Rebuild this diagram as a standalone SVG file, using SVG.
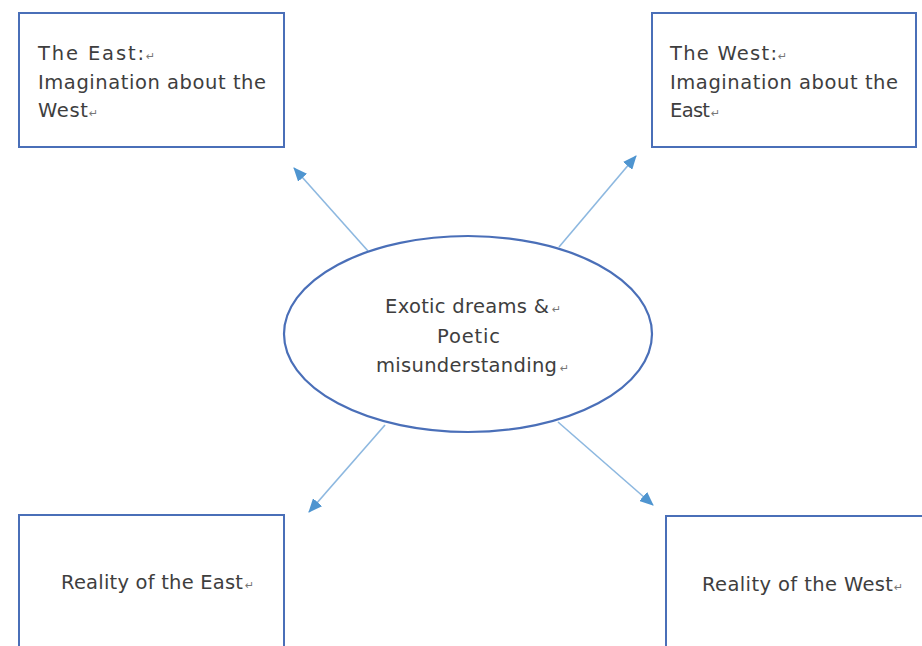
<svg xmlns="http://www.w3.org/2000/svg" width="922" height="646" viewBox="0 0 922 646">
  <defs>
    <marker id="arrow" viewBox="0 0 14 12" refX="13" refY="6" markerWidth="14" markerHeight="12" markerUnits="userSpaceOnUse" orient="auto">
      <path d="M0,0 L14,6 L0,12 z" fill="#4F95D0"/>
    </marker>
    <style>
      .box { fill: #ffffff; stroke: #4A6FB8; stroke-width: 2; }
      .ell { fill: #ffffff; stroke: #4A6FB8; stroke-width: 2.2; }
      .conn { stroke: #8DB8E0; stroke-width: 1.6; fill: none; marker-end: url(#arrow); }
      .t { font-family: "DejaVu Sans", "Noto Sans", sans-serif; font-size: 19.5px; fill: #3E3E3E; }
      .ret { font-family: "DejaVu Sans", sans-serif; font-size: 11px; fill: #777777; }
    </style>
  </defs>
  <rect width="922" height="646" fill="#ffffff"/>

  <g id="connectors">
    <line class="conn" x1="368" y1="251" x2="294" y2="168"/>
    <line class="conn" x1="559" y1="247" x2="636" y2="156"/>
    <line class="conn" x1="385" y1="425" x2="309" y2="512"/>
    <line class="conn" x1="558" y1="422" x2="653" y2="505"/>
  </g>

  <g id="center">
    <ellipse class="ell" cx="468" cy="334" rx="184" ry="98"/>
    <text class="t" x="385" y="313" textLength="164" lengthAdjust="spacing">Exotic dreams &amp;</text>
    <text class="ret" x="552" y="313">↵</text>
    <text class="t" x="437" y="343" textLength="63" lengthAdjust="spacing">Poetic</text>
    <text class="t" x="376" y="372" textLength="181" lengthAdjust="spacing">misunderstanding</text>
    <text class="ret" x="560" y="372">↵</text>
  </g>

  <g id="east-imagination">
    <rect class="box" x="19" y="13" width="265" height="134"/>
    <text class="t" x="38" y="60" textLength="106" lengthAdjust="spacing">The East:</text>
    <text class="ret" x="146" y="60">↵</text>
    <text class="t" x="38" y="89" textLength="228" lengthAdjust="spacing">Imagination about the</text>
    <text class="t" x="38" y="117" textLength="50" lengthAdjust="spacing">West</text>
    <text class="ret" x="89" y="117">↵</text>
  </g>

  <g id="west-imagination">
    <rect class="box" x="652" y="13" width="264" height="134"/>
    <text class="t" x="670" y="60" textLength="107" lengthAdjust="spacing">The West:</text>
    <text class="ret" x="778" y="60">↵</text>
    <text class="t" x="670" y="89" textLength="228" lengthAdjust="spacing">Imagination about the</text>
    <text class="t" x="670" y="117" textLength="40" lengthAdjust="spacing">East</text>
    <text class="ret" x="711" y="117">↵</text>
  </g>

  <g id="east-reality">
    <rect class="box" x="19" y="515" width="265" height="150"/>
    <text class="t" x="61" y="589" textLength="182" lengthAdjust="spacing">Reality of the East</text>
    <text class="ret" x="245" y="589">↵</text>
  </g>

  <g id="west-reality">
    <rect class="box" x="666" y="516" width="270" height="150"/>
    <text class="t" x="702" y="591" textLength="191" lengthAdjust="spacing">Reality of the West</text>
    <text class="ret" x="894" y="591">↵</text>
  </g>
</svg>
